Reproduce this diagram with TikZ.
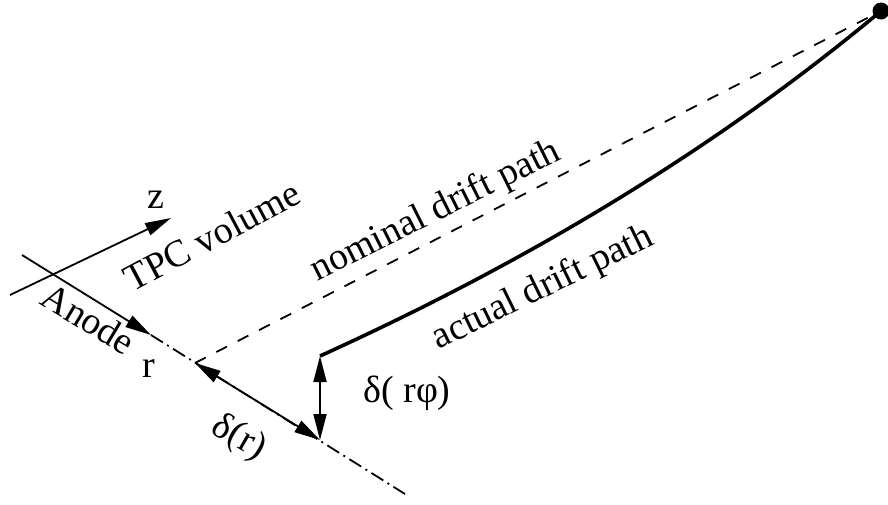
\documentclass[tikz,border=0pt]{standalone}
\usepackage{fontspec}
\setmainfont{Liberation Serif}
\usetikzlibrary{arrows.meta}

\begin{document}
\begin{tikzpicture}[x=0.5pt,y=-0.5pt,
    >={Triangle[length=13pt,width=6.5pt]},
    lbl/.style={font=\fontsize{19}{22}\selectfont, inner sep=0pt, anchor=base},
    thin line/.style={line width=0.9pt},
    dashdot/.style={dash pattern=on 7pt off 2.5pt on 1pt off 2.5pt}]
    \useasboundingbox (0,0) rectangle (888,504);
    % axes at the anode
    \coordinate (zs) at (10,295);
    \coordinate (zt) at (171,218);
    \coordinate (rs) at (22,255);
    \coordinate (rt) at (151,335);
    \coordinate (re) at (405,494);
    \coordinate (nom) at (195,363);
    \coordinate (foot) at (320,440);
    \coordinate (kink) at (320,356);
    \node[circle, fill, inner sep=0pt, minimum size=8.5pt] (dot) at (881,11) {};
    \draw[thin line, ->] (zs) -- (zt);
    \draw[thin line, ->] (rs) -- (rt);
    \draw[thin line, dashdot] (rt) -- (re);
    % drift paths
    \draw[thin line, dash pattern=on 6pt off 6pt] (nom) -- (dot);
    \draw[line width=1.8pt] (kink) .. controls (505,272) and (700,162) .. (dot.center);
    % displacements
    \draw[thin line, <->] (nom) -- (foot);
    \draw[thin line, <->] (kink) -- (foot);
    % labels
    \node[lbl] (zlbl) at (156,208) {z};
    \node[lbl, rotate=28] (tpc) at (218,247) {TPC volume};
    \node[lbl, rotate=-31] (anode) at (82,330) {Anode};
    \node[lbl] (rlbl) at (149,377) {r};
    \node[lbl, rotate=26.5] (nomlbl) at (440,220) {nominal drift path};
    \node[lbl, rotate=26] (actlbl) at (547,297) {actual drift path};
    \node[lbl, rotate=-30] (drlbl) at (234,446) {δ(r)};
    \node[lbl] (drphi) at (407,402) {δ( rφ)};
\end{tikzpicture}
\end{document}
